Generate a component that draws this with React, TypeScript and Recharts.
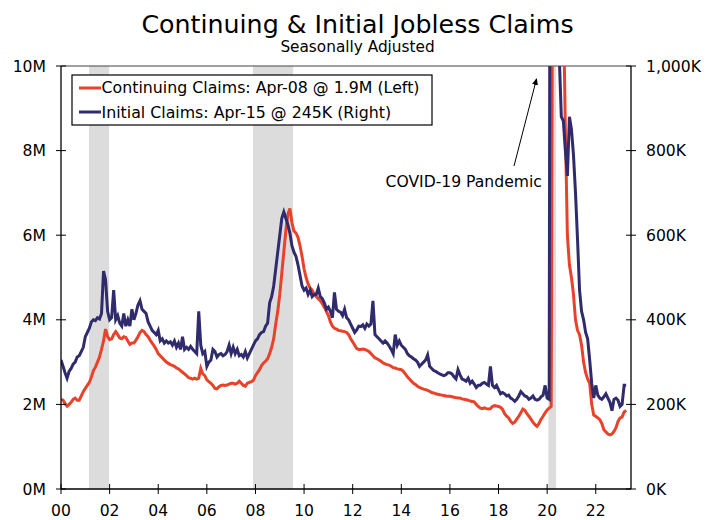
// Continuing & Initial Jobless Claims - Recharts line chart with two y-axes
import { LineChart, Line, XAxis, YAxis, ReferenceArea, ReferenceLine } from 'recharts';

const START_YEAR = 2000; // monthly values, Jan 2000 onward

// Continuing claims, millions (left axis)
const continuingClaims = [
    2.12, 2.10, 2.02, 1.96, 2.00, 2.05, 2.12, 2.15, 2.10, 2.10, 2.20, 2.30,
    2.38, 2.45, 2.52, 2.65, 2.80, 2.88, 3.00, 3.12, 3.30, 3.50, 3.78, 3.60,
    3.53, 3.55, 3.65, 3.72, 3.65, 3.57, 3.55, 3.60, 3.58, 3.50, 3.42, 3.45,
    3.45, 3.52, 3.60, 3.70, 3.75, 3.72, 3.65, 3.60, 3.52, 3.45, 3.38, 3.30,
    3.20, 3.15, 3.10, 3.05, 3.00, 2.97, 2.94, 2.92, 2.90, 2.86, 2.84, 2.80,
    2.76, 2.72, 2.68, 2.63, 2.62, 2.60, 2.62, 2.60, 2.62, 2.85, 2.72, 2.68,
    2.58, 2.54, 2.50, 2.45, 2.38, 2.37, 2.42, 2.45, 2.46, 2.45, 2.46, 2.48,
    2.50, 2.50, 2.48, 2.50, 2.55, 2.50, 2.45, 2.43, 2.50, 2.52, 2.54, 2.57,
    2.68, 2.75, 2.82, 2.92, 2.98, 3.02, 3.08, 3.20, 3.35, 3.55, 3.90, 4.20,
    4.60, 5.10, 5.60, 6.10, 6.50, 6.63, 6.30, 6.10, 6.05, 5.95, 5.75, 5.50,
    5.20, 5.00, 4.85, 4.75, 4.70, 4.60, 4.55, 4.50, 4.45, 4.38, 4.30, 4.20,
    4.10, 3.95, 3.85, 3.80, 3.78, 3.75, 3.74, 3.73, 3.72, 3.70, 3.65, 3.55,
    3.48, 3.40, 3.32, 3.30, 3.30, 3.31, 3.30, 3.28, 3.25, 3.20, 3.15, 3.10,
    3.08, 3.05, 3.02, 2.98, 2.96, 2.94, 2.93, 2.90, 2.87, 2.86, 2.84, 2.83,
    2.82, 2.78, 2.72, 2.65, 2.60, 2.55, 2.50, 2.47, 2.43, 2.40, 2.38, 2.36,
    2.35, 2.33, 2.31, 2.28, 2.27, 2.25, 2.24, 2.23, 2.22, 2.21, 2.20, 2.19,
    2.19, 2.18, 2.17, 2.16, 2.15, 2.15, 2.13, 2.12, 2.11, 2.10, 2.08, 2.07,
    2.06, 2.00, 1.95, 1.91, 1.90, 1.92, 1.90, 1.89, 1.90, 1.95, 1.97, 1.96,
    1.95, 1.93, 1.88, 1.78, 1.72, 1.68, 1.60, 1.55, 1.58, 1.65, 1.72, 1.80,
    1.89, 1.86, 1.78, 1.72, 1.65, 1.58, 1.52, 1.48, 1.55, 1.65, 1.72, 1.80,
    1.87, 1.91, 1.95, 18.0, 22.0, 19.0, 17.0, 14.0, 11.5, 8.50, 6.00, 5.30,
    5.00, 4.60, 4.00, 3.75, 3.65, 3.40, 3.00, 2.75, 2.60, 2.50, 2.00, 1.75,
    1.72, 1.68, 1.64, 1.55, 1.40, 1.35, 1.30, 1.28, 1.30, 1.36, 1.45, 1.60,
    1.68, 1.70, 1.82, 1.86,
];

// Initial claims, thousands (right axis)
const initialClaims = [
    305, 290, 275, 262, 278, 285, 295, 300, 312, 315, 325, 335,
    360, 370, 380, 395, 400, 398, 405, 402, 415, 515, 495, 420,
    400, 405, 470, 400, 410, 392, 385, 415, 385, 400, 385, 425,
    400, 415, 435, 445, 425, 420, 415, 395, 385, 375, 370, 365,
    375, 350, 355, 345, 350, 345, 348, 340, 350, 335, 345, 330,
    360, 330, 335, 330, 337, 330, 325, 320, 420, 340, 320, 325,
    290, 300, 305, 330, 325, 312, 318, 320, 315, 318, 325, 340,
    320, 335, 320, 330, 315, 318, 312, 325, 310, 320, 330, 340,
    350, 355, 365, 370, 372, 385, 392, 440, 455, 480, 520, 560,
    600, 640, 655, 640, 625, 605, 575, 560, 550, 530, 505, 480,
    470, 475, 460, 470, 455, 460, 460, 475, 455, 450, 440, 425,
    430, 420, 405, 465, 425, 420, 418, 410, 425, 405, 400, 390,
    380, 370, 376, 385, 384, 388, 380, 390, 385, 390, 445, 365,
    360, 355, 350, 345, 350, 345, 338, 330, 320, 365, 340, 350,
    340, 335, 330, 320, 315, 312, 308, 305, 300, 290, 295, 300,
    305, 317, 290, 285, 280, 278, 275, 272, 270, 268, 270, 275,
    275, 272, 265, 260, 282, 270, 260, 258, 255, 262, 250, 255,
    248, 240, 245, 245, 250, 252, 248, 245, 290, 245, 240, 245,
    235, 225, 228, 225, 220, 222, 215, 212, 207, 212, 220, 230,
    225, 220, 218, 212, 215, 220, 212, 210, 212, 218, 222, 245,
    215, 212, 3000, 4000, 2200, 1450, 1020, 880, 870, 800, 740, 880,
    850, 790, 700, 590, 470, 420, 400, 370, 355, 305, 250, 215,
    245, 222, 215, 212, 218, 225, 215, 205, 185, 212, 215, 210,
    195, 200, 245, 245,
];

const recessions = [
    [2001.15, 2001.98],
    [2007.9, 2009.55],
    [2020.05, 2020.37],
];

const xTicks = [2000, 2002, 2004, 2006, 2008, 2010, 2012, 2014, 2016, 2018, 2020, 2022];
const leftTicks = [0, 2, 4, 6, 8, 10];
const rightTicks = [0, 200, 400, 600, 800, 1000];

const RED = '#E8432A';
const BLUE = '#302B6C';
const FONT = '"DejaVu Sans", Verdana, sans-serif';
const TICK_FONT = 15.6;

const continuingData = continuingClaims.map((v, i) => ({ x: START_YEAR + i / 12, v }));
const initialData = initialClaims.map((v, i) => ({ x: START_YEAR + i / 12, v }));

const LeftTick = ({ x, y, payload }: any) => (
    <g>
        <line x1={x - 5} x2={x + 5} y1={y} y2={y} stroke="#000" />
        <text x={x - 15} y={y} dy="0.36em" textAnchor="end" fontSize={TICK_FONT} fontFamily={FONT} fill="#000">
            {`${payload.value}M`}
        </text>
    </g>
);

const RightTick = ({ x, y, payload }: any) => (
    <g>
        <line x1={x - 5} x2={x + 5} y1={y} y2={y} stroke="#000" />
        <text x={x + 15} y={y} dy="0.36em" textAnchor="start" fontSize={TICK_FONT} fontFamily={FONT} fill="#000">
            {`${payload.value.toLocaleString('en-US')}K`}
        </text>
    </g>
);

const BottomTick = ({ x, y, payload }: any) => (
    <g>
        <line x1={x} x2={x} y1={y - 5} y2={y + 5} stroke="#000" />
        <text x={x} y={y + 27} textAnchor="middle" fontSize={TICK_FONT} fontFamily={FONT} fill="#000">
            {String(payload.value % 100).padStart(2, '0')}
        </text>
    </g>
);

export default function App() {
    return (
        <div style={{ position: 'absolute', left: 0, top: 0, width: 715, height: 520, background: '#fff', fontFamily: FONT }}>
            <LineChart width={715} height={520} margin={{ top: 66, right: 24, bottom: 1, left: 11 }}>
                {recessions.map(([a, b], i) => (
                    <ReferenceArea key={`rec-${i}`} x1={a} x2={b} y1={0} y2={10} yAxisId="left"
                        fill="#DCDCDC" fillOpacity={1} stroke="none" ifOverflow="hidden" />
                ))}
                <XAxis dataKey="x" type="number" domain={[2000, 2023.45]} ticks={xTicks} interval={0}
                    allowDataOverflow height={30} tickSize={0} tickMargin={0} tickLine={false}
                    axisLine={{ stroke: '#000', strokeWidth: 1.3 }} tick={(p: any) => <BottomTick {...p} />} />
                <YAxis yAxisId="left" orientation="left" domain={[0, 10]} ticks={leftTicks} interval={0}
                    allowDataOverflow width={50} tickSize={0} tickMargin={0} tickLine={false}
                    axisLine={{ stroke: '#000', strokeWidth: 1.3 }} tick={(p: any) => <LeftTick {...p} />} />
                <YAxis yAxisId="right" orientation="right" domain={[0, 1000]} ticks={rightTicks} interval={0}
                    allowDataOverflow width={60} tickSize={0} tickMargin={0} tickLine={false}
                    axisLine={{ stroke: '#000', strokeWidth: 1.3 }} tick={(p: any) => <RightTick {...p} />} />
                <ReferenceLine y={10} yAxisId="left" stroke="#444" strokeWidth={1.2} />
                <Line data={continuingData} dataKey="v" yAxisId="left" type="linear" stroke={RED}
                    strokeWidth={3} dot={false} isAnimationActive={false} />
                <Line data={initialData} dataKey="v" yAxisId="right" type="linear" stroke={BLUE}
                    strokeWidth={3} dot={false} isAnimationActive={false} />
            </LineChart>

            <svg width={715} height={520} style={{ position: 'absolute', left: 0, top: 0, pointerEvents: 'none' }}>
                <defs>
                    <marker id="arrowHead" markerWidth="8" markerHeight="8" refX="6" refY="4" orient="auto" markerUnits="userSpaceOnUse">
                        <path d="M0,1 L7,4 L0,7 z" fill="#000" />
                    </marker>
                </defs>
                <text x={357.5} y={33} textAnchor="middle" fontSize={25.3} fontFamily={FONT} fill="#000">
                    Continuing &amp; Initial Jobless Claims
                </text>
                <text x={357.5} y={52} textAnchor="middle" fontSize={15.3} fontFamily={FONT} fill="#000">
                    Seasonally Adjusted
                </text>

                <rect x={72} y={75} width={360} height={50} fill="#fff" stroke="#000" strokeWidth={1.2} />
                <line x1={79} x2={101} y1={88} y2={88} stroke={RED} strokeWidth={3} />
                <text x={101.5} y={93.3} fontSize={15.8} fontFamily={FONT} fill="#000">
                    Continuing Claims: Apr-08 @ 1.9M (Left)
                </text>
                <line x1={79} x2={101} y1={112} y2={112} stroke={BLUE} strokeWidth={3} />
                <text x={101.5} y={117.5} fontSize={15.8} fontFamily={FONT} fill="#000">
                    Initial Claims: Apr-15 @ 245K (Right)
                </text>

                <text x={385.5} y={187} fontSize={15.6} fontFamily={FONT} fill="#000">COVID-19 Pandemic</text>
                <line x1={514} y1={166} x2={536.5} y2={79} stroke="#000" strokeWidth={1} markerEnd="url(#arrowHead)" />
            </svg>
        </div>
    );
}
